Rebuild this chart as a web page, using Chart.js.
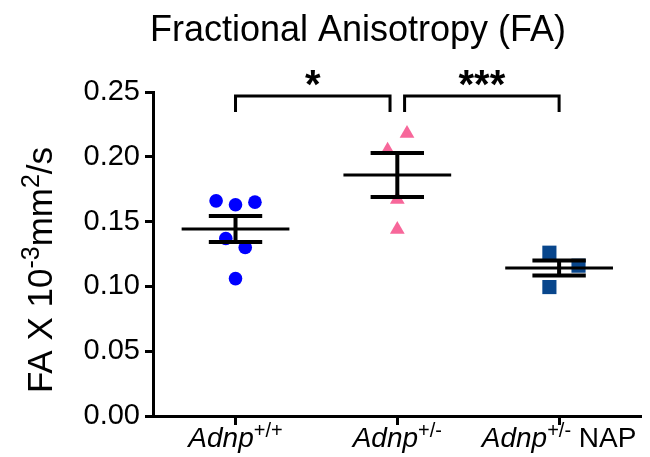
<!DOCTYPE html>
<html>
<head>
<meta charset="utf-8">
<script src="https://cdn.jsdelivr.net/npm/chart.js@4/dist/chart.umd.min.js"></script>
<style>
  body { margin: 0; background: #fff; }
  canvas { display: block; }
</style>
</head>
<body>
<canvas id="faChart" width="650" height="457"></canvas>
<script>
// Fractional anisotropy per animal
const wtX = [0.88, 1.0, 1.12, 0.94, 1.06, 1.0];
const wtFA = [0.166, 0.163, 0.165, 0.137, 0.130, 0.106];
const hetX = [2.06, 1.94, 2.0, 2.0];
const hetFA = [0.218, 0.205, 0.167, 0.144];
const napX = [2.94, 2.94, 3.12];
const napFA = [0.126, 0.0995, 0.116];

// mean +/- SEM as drawn
const groupMean = [0.1443, 0.186, 0.1142];
const groupSEM = [0.0100, 0.0170, 0.0058];

const yTicks = [0, 0.05, 0.10, 0.15, 0.20, 0.25];
const xTicks = [1, 2, 3];
const groupLabels = [
  [{ t: 'Adnp', it: true }, { t: '+/+', sup: true }],
  [{ t: 'Adnp', it: true }, { t: '+/-', sup: true }],
  [{ t: 'Adnp', it: true }, { t: '+/-', sup: true }, { t: ' NAP' }]
];
const yTitle = [{ t: 'FA X 10' }, { t: '-3', sup: true }, { t: 'mm' }, { t: '2', sup: true }, { t: '/s' }];
const chartTitle = 'Fractional Anisotropy (FA)';

// significance brackets (x in group units, y in FA units)
const sigBrackets = [
  { from: 1, to: 1.955, text: '*' },
  { from: 2.045, to: 3, text: '***' }
];
const bracketTop = 0.247;
const bracketLeg = 0.2346;

const FONT = '"Liberation Sans", Arial, sans-serif';

function richText(ctx, segs, x, y, size) {
  const parts = segs.map(s => {
    const fs = s.sup ? Math.round(size * 0.72) : size;
    const font = (s.it ? 'italic ' : '') + fs + 'px ' + FONT;
    ctx.font = font;
    return { t: s.t, font: font, w: ctx.measureText(s.t).width, dy: s.sup ? -size * 0.36 : 0 };
  });
  const total = parts.reduce((a, p) => a + p.w, 0);
  let cx = x - total / 2;
  parts.forEach(p => {
    ctx.font = p.font;
    ctx.fillText(p.t, cx, y + p.dy);
    cx += p.w;
  });
}

function seg(ctx, x1, y1, x2, y2) {
  ctx.beginPath();
  ctx.moveTo(x1, y1);
  ctx.lineTo(x2, y2);
  ctx.stroke();
}

const meanBars = {
  id: 'meanBars',
  afterDatasetsDraw(chart) {
    const { ctx, scales: { x, y } } = chart;
    ctx.save();
    ctx.strokeStyle = '#000';
    groupMean.forEach((m, i) => {
      const c = xTicks[i];
      const ym = y.getPixelForValue(m);
      const yHi = y.getPixelForValue(m + groupSEM[i]);
      const yLo = y.getPixelForValue(m - groupSEM[i]);
      ctx.lineWidth = 3;
      seg(ctx, x.getPixelForValue(c - 0.333), ym, x.getPixelForValue(c + 0.333), ym);
      ctx.lineWidth = 4;
      seg(ctx, x.getPixelForValue(c), yHi, x.getPixelForValue(c), yLo);
      seg(ctx, x.getPixelForValue(c - 0.165), yHi, x.getPixelForValue(c + 0.165), yHi);
      seg(ctx, x.getPixelForValue(c - 0.165), yLo, x.getPixelForValue(c + 0.165), yLo);
    });
    ctx.restore();
  }
};

const annotations = {
  id: 'annotations',
  afterDraw(chart) {
    const { ctx, scales: { x, y } } = chart;
    ctx.save();
    ctx.fillStyle = '#000';
    ctx.strokeStyle = '#000';
    ctx.textBaseline = 'alphabetic';

    // brackets and stars
    ctx.lineWidth = 3;
    const yt = y.getPixelForValue(bracketTop);
    const yl = y.getPixelForValue(bracketLeg);
    sigBrackets.forEach(b => {
      const x1 = x.getPixelForValue(b.from), x2 = x.getPixelForValue(b.to);
      ctx.beginPath();
      ctx.moveTo(x1, yl);
      ctx.lineTo(x1, yt);
      ctx.lineTo(x2, yt);
      ctx.lineTo(x2, yl);
      ctx.stroke();
      ctx.font = 'bold 40px ' + FONT;
      ctx.textAlign = 'center';
      ctx.fillText(b.text, (x1 + x2) / 2, yt + 2);
    });

    // title
    ctx.textAlign = 'center';
    ctx.font = '36px ' + FONT;
    ctx.fillText(chartTitle, 358, 41);

    // x labels
    ctx.textAlign = 'left';
    groupLabels.forEach((segs, i) => {
      richText(ctx, segs, x.getPixelForValue(xTicks[i]), 447, 28);
    });

    // y title
    ctx.translate(52, 270);
    ctx.rotate(-Math.PI / 2);
    richText(ctx, yTitle, 0, 0, 35);
    ctx.restore();
  }
};

const ctx = document.getElementById('faChart').getContext('2d');
const faChart = new Chart(ctx, {
  type: 'scatter',
  data: {
    datasets: [
      {
        label: 'Adnp+/+',
        data: wtFA.map((v, i) => ({ x: wtX[i], y: v })),
        pointStyle: 'circle',
        pointRadius: 6.8,
        backgroundColor: '#0000ff',
        borderWidth: 0
      },
      {
        label: 'Adnp+/-',
        data: hetFA.map((v, i) => ({ x: hetX[i], y: v })),
        pointStyle: 'triangle',
        pointRadius: 8.5,
        backgroundColor: '#f7679a',
        borderWidth: 0
      },
      {
        label: 'Adnp+/- NAP',
        data: napFA.map((v, i) => ({ x: napX[i], y: v })),
        pointStyle: 'rect',
        pointRadius: 10,
        backgroundColor: '#08468c',
        borderWidth: 0
      }
    ]
  },
  options: {
    responsive: false,
    animation: false,
    events: [],
    layout: { padding: { top: 92, right: 2, left: 0, bottom: 0 } },
    plugins: {
      legend: { display: false },
      title: { display: false },
      tooltip: { enabled: false }
    },
    scales: {
      x: {
        type: 'linear',
        min: 0.49,
        max: 3.5,
        afterBuildTicks: s => { s.ticks = xTicks.map(v => ({ value: v })); },
        afterFit: s => { s.height = 41; },
        ticks: { display: false },
        grid: { drawOnChartArea: false, drawTicks: true, tickLength: 9, color: '#000', lineWidth: 3 },
        border: { color: '#000', width: 3 }
      },
      y: {
        min: 0,
        max: 0.25,
        afterBuildTicks: s => { s.ticks = yTicks.map(v => ({ value: v })); },
        afterFit: s => { s.width = 153; },
        ticks: {
          color: '#000',
          padding: 5,
          font: { family: FONT, size: 29 },
          callback: v => v.toFixed(2)
        },
        grid: { drawOnChartArea: false, drawTicks: true, tickLength: 8, color: '#000', lineWidth: 3 },
        border: { color: '#000', width: 3 }
      }
    }
  },
  plugins: [meanBars, annotations]
});
</script>
</body>
</html>
